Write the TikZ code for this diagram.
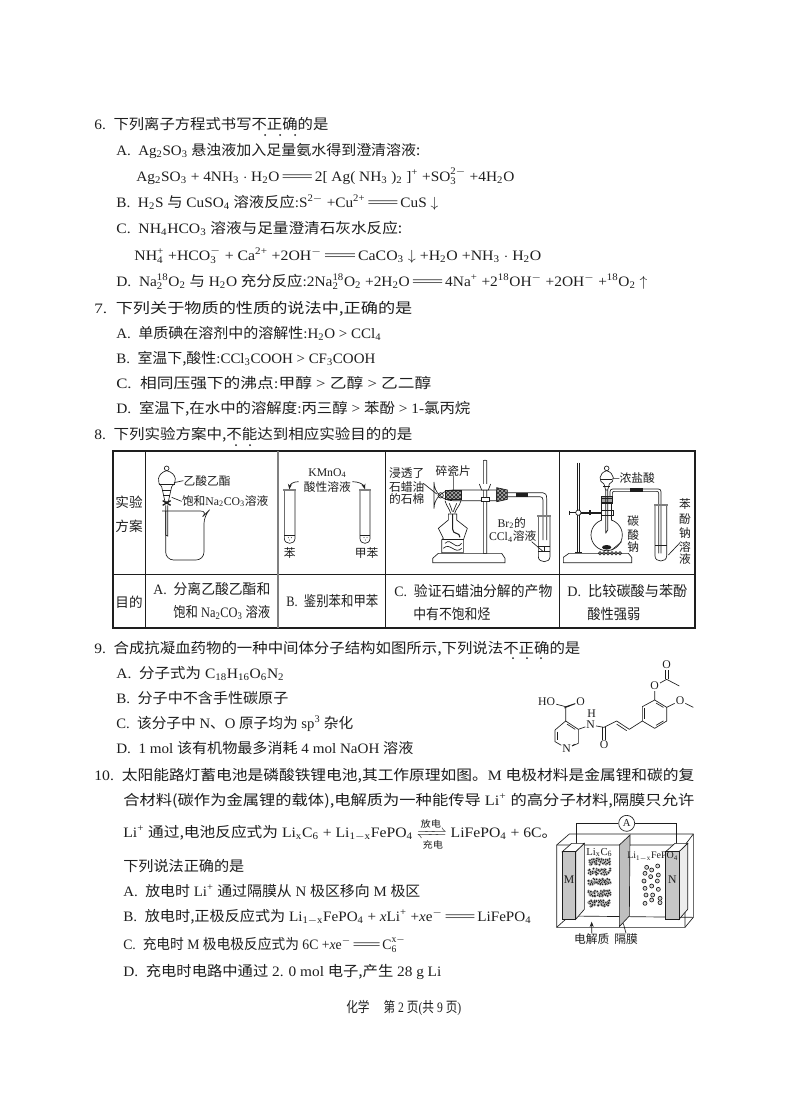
\documentclass[tikz,border=0pt]{standalone}
\usepackage{amsmath, mathtools}
\usepackage{graphicx}
\usepackage{fontspec}
\setmainfont{Liberation Serif}
\newfontfamily\cjk{Noto Sans CJK SC}
\usetikzlibrary{patterns,arrows.meta}
\definecolor{ink}{HTML}{1E1E1E}
\newlength{\pxu}
\setlength{\pxu}{.75pt}
\newcommand{\zh}[1]{{\cjk #1}}
\newcommand{\dn}[1]{$_{\text{#1}}$}
\newcommand{\up}[1]{$^{\text{#1}}$}
\newcommand{\ds}[2]{$^{\text{#1}}_{\text{#2}}$}
\newcommand{\eqq}{\resizebox{2.3em}{\height}{=}}
\newcommand{\tline}[5]{\node[txt] (#1) at (#2,#3) {\resizebox{#4\pxu}{\height}{#5}};}
\newcommand{\ttube}[5]{
 \draw (#1,#3) -- (#1,#4) .. controls (#1,#4+20) and (#2,#4+20) .. (#2,#4) -- (#2,#3);
 \draw (#1,#5) -- (#2,#5);
 \fill[gray] (#1-3,#3-3) rectangle (#2+3,#3+3);
}
\tikzset{
 txt/.style={anchor=base west,inner sep=0pt,text=ink,font=\fontsize{10.8}{13}\selectfont},
 lab/.style={inner sep=0pt,text=ink,font=\fontsize{8.8}{10}\selectfont},
 head/.style={inner sep=0pt,text=ink,font=\fontsize{10.2}{12}\selectfont},
 atom/.style={inner sep=.6pt,text=ink,font=\fontsize{8.8}{10}\selectfont},
 inbond/.style={shorten >=1.2pt,shorten <=1.2pt},
}
\begin{document}
\begin{tikzpicture}[x=.75pt,y=-.75pt,line width=.5pt,draw=ink]
\useasboundingbox (0,0) rectangle (789,1099);
\fill[white] (0,0) rectangle (789,1099);
\tline{qsix}{94}{129}{234}{6.\ \ \zh{下列离子方程式书写不正确的是}}
\foreach \x in {265,280,295} \fill[ink] (\x,135) circle (1);
\tline{qsixa}{116}{155}{304}{A.\ \ Ag\dn{2}SO\dn{3} \zh{悬浊液加入足量氨水得到澄清溶液:}}
\tline{qsixae}{136}{181}{378}{Ag\dn{2}SO\dn{3} + 4NH\dn{3} $\cdot$ H\dn{2}O\eqq 2[ Ag( NH\dn{3} )\dn{2} ]\up{+} +SO\ds{2$-$}{3} +4H\dn{2}O}
\tline{qsixb}{116}{207}{322}{B.\ \ H\dn{2}S \zh{与} CuSO\dn{4} \zh{溶液反应}:S\up{2$-$} +Cu\up{2+}\eqq CuS $\downarrow$}
\tline{qsixc}{116}{233}{286}{C.\ \ NH\dn{4}HCO\dn{3} \zh{溶液与足量澄清石灰水反应:}}
\tline{qsixce}{134}{260}{407}{NH\ds{+}{4} +HCO\ds{$-$}{3} + Ca\up{2+} +2OH\up{$-$}\eqq CaCO\dn{3} $\downarrow$ +H\dn{2}O +NH\dn{3} $\cdot$ H\dn{2}O}
\tline{qsixd}{116}{286}{531}{D.\ \ Na\ds{18}{2}O\dn{2} \zh{与} H\dn{2}O \zh{充分反应}:2Na\ds{18}{2}O\dn{2} +2H\dn{2}O\eqq 4Na\up{+} +2\up{18}OH\up{$-$} +2OH\up{$-$} +\up{18}O\dn{2} $\uparrow$}
\tline{qsev}{94}{313}{318}{7.\ \ \zh{下列关于物质的性质的说法中,正确的是}}
\tline{qseva}{116}{338}{265}{A.\ \ \zh{单质碘在溶剂中的溶解性}:H\dn{2}O > CCl\dn{4}}
\tline{qsevb}{116}{363}{259}{B.\ \ \zh{室温下,酸性}:CCl\dn{3}COOH > CF\dn{3}COOH}
\tline{qsevc}{116}{388}{315}{C.\ \ \zh{相同压强下的沸点}:\zh{甲醇} > \zh{乙醇} > \zh{乙二醇}}
\tline{qsevd}{116}{413}{354}{D.\ \ \zh{室温下,在水中的溶解度}:\zh{丙三醇} > \zh{苯酚} > 1-\zh{氯丙烷}}
\tline{qeig}{94}{439}{318}{8.\ \ \zh{下列实验方案中,不能达到相应实验目的的是}}
\foreach \x in {236,250} \fill[ink] (\x,445) circle (1);
% table
\draw[line width=.8pt] (113,451) rectangle (695,628);
\draw[line width=.5pt] (113,574) -- (695,574);
\draw (145,451) -- (145,628) (385,451) -- (385,628) (559,451) -- (559,628);
\draw[gray,line width=1pt] (278,451) -- (278,628);
\node[head] (shiyan) at (129,502) {\zh{实验}};
\node[head] (fangan) at (129,526) {\zh{方案}};
\node[head] (mude) at (129,602) {\zh{目的}};
\tline{rowa}{153}{594}{117}{A.\ \ \zh{分离乙酸乙酯和}}
\tline{rowaa}{173}{617}{97}{\zh{饱和} Na\dn{2}CO\dn{3} \zh{溶液}}
\tline{rowb}{286}{606}{92}{B.\ \ \zh{鉴别苯和甲苯}}
\tline{rowc}{394}{596}{158}{C.\ \ \zh{验证石蜡油分解的产物}}
\tline{rowcc}{413}{619}{77}{\zh{中有不饱和烃}}
\tline{rowd}{567}{596}{120}{D.\ \ \zh{比较碳酸与苯酚}}
\tline{rowdd}{587}{619}{53}{\zh{酸性强弱}}
% A and B
\begin{scope}[shift={(100,440)},scale=1/3]
 \draw (200,85) circle (7);
 \draw (200,92) .. controls (170,100) and (170,130) .. (185,140) -- (195,185) -- (205,185) -- (215,140) .. controls (232,130) and (232,100) .. (200,92);
 \draw (176,132) -- (224,132) (186,150) -- (214,150) (190,165) -- (210,165);
 \draw[line width=1pt] (188,182) -- (212,196) (188,196) -- (212,182);
 \draw (197,196) -- (197,285) -- (203,288) -- (203,196);
 \draw[rounded corners=6] (186,213) -- (325,213) -- (312,226) -- (312,360) -- (197,360) -- (197,213);
 \coordinate (lda) at (222,128);
 \coordinate (ldb) at (215,172);
 \node[lab,anchor=west] (yizhi) at (250,122) {\zh{乙酸乙酯}};
 \node[lab,anchor=west] (baohe) at (245,184) {\zh{饱和}Na\dn{2}CO\dn{3}\zh{溶液}};
 \draw (lda) -- (yizhi.west) (ldb) -- (baohe.west);
 \node[lab] (kmno) at (682,100) {KMnO\dn{4}};
 \node[lab] (suanxing) at (682,142) {\zh{酸性溶液}};
 \coordinate (la) at (568,148);
 \coordinate (lb) at (795,148);
 \draw[-{Stealth[length=4pt,width=3pt]}] (596,125) .. controls (580,125) and (570,132) .. (la);
 \draw[-{Stealth[length=4pt,width=3pt]}] (757,125) .. controls (775,125) and (790,132) .. (lb);
 \ttube{553}{585}{150}{295}{285}
 \ttube{780}{810}{150}{295}{285}
 \foreach \x/\y in {565/293,574/293,569/300,792/293,801/293,796/300} \fill[ink] (\x,\y) circle (1.5);
 \node[lab] (ben) at (569,340) {\zh{苯}};
 \node[lab] (jiaben) at (800,340) {\zh{甲苯}};
\end{scope}
% C
\begin{scope}[shift={(380,440)},scale=1/3]
 \node[lab] (jin) at (80,100) {\zh{浸透了}};
 \node[lab] (shi) at (80,140) {\zh{石蜡油}};
 \node[lab] (de) at (80,178) {\zh{的石棉}};
 \node[lab] (suici) at (220,92) {\zh{碎瓷片}};
 \draw[rounded corners=14] (350,150) -- (162,150) -- (162,182) -- (350,182);
 \draw (350,150) -- (350,182);
 \draw (182,166) circle (8);
 \draw[fill=gray!70] (195,150) rectangle (245,178);
 \fill[pattern=crosshatch,pattern color=ink] (195,150) rectangle (245,178);
 \draw[fill=gray!70] (350,143) -- (382,150) -- (382,178) -- (350,185) -- cycle;
 \fill[pattern=crosshatch,pattern color=ink] (350,143) -- (382,150) -- (382,178) -- (350,185) -- cycle;
 \draw (130,130) -- (170,162) (220,106) -- (220,150);
 \draw (382,158) -- (488,158) .. controls (497,158) and (500,165) .. (500,175) -- (500,300);
 \draw (382,170) -- (480,170) .. controls (486,170) and (489,174) .. (489,180) -- (489,300);
 \fill[ink] (408,158) rectangle (445,170);
 \ttube{475}{510}{228}{350}{320}
 \draw (475,335) -- (510,335) (492,320) -- (492,335);
 \node[lab] (brtwo) at (395,250) {Br\dn{2}\zh{的}};
 \node[lab] (ccl) at (398,290) {CCl\dn{4}\zh{溶液}};
 \draw (455,305) -- (490,335);
 \draw (310,62) -- (310,340) -- (320,340) -- (320,62) .. controls (318,60) and (312,60) .. (310,62);
 \draw[fill=white] (298,132) -- (305,150) -- (325,150) -- (332,132);
 \draw[fill=white] (303,172) rectangle (328,183);
 \draw (175,340) -- (365,340) -- (375,355) -- (375,368) -- (158,368) -- (158,355) -- cycle;
 \draw (205,222) -- (205,240) -- (175,265) -- (190,295) -- (185,300) -- (185,338) -- (250,338) -- (250,300) -- (262,265) -- (230,240) -- (230,222) -- cycle;
 \draw (185,298) -- (250,298);
 \draw[line width=.8pt] (218,222) -- (218,268) .. controls (218,285) and (240,275) .. (240,292);
 \draw (195,310) .. controls (215,290) and (225,335) .. (245,310) (190,325) .. controls (210,305) and (225,345) .. (245,325);
 \draw (195,182) .. controls (200,200) and (208,205) .. (212,220) (243,182) .. controls (238,200) and (228,205) .. (224,220) (208,190) .. controls (212,200) and (215,208) .. (217,215) (230,190) .. controls (226,200) and (222,208) .. (220,215);
\end{scope}
% D
\begin{scope}[shift={(380,440)},scale=1/3]
 \draw (567,340) -- (745,340) -- (755,352) -- (755,368) -- (550,368) -- (550,352) -- cycle;
 \draw (592,68) -- (592,340) (598,68) -- (598,340);
 \fill[ink] (585,335) rectangle (605,340);
 \draw[fill=white] (680,285) circle (47);
 \fill[white] (666,190) rectangle (694,245);
 \draw (665,190) -- (665,240) (695,190) -- (695,240);
 \draw[fill=white] (595,218) circle (8);
 \draw (568,218) -- (587,218) (603,216) -- (665,216) (603,220) -- (665,220);
 \draw[line width=1pt] (568,212) -- (568,224) (630,210) -- (630,226);
 \draw (665,210) -- (700,210) -- (700,226) -- (665,226);
 \draw[fill=gray!70] (665,170) rectangle (698,190);
 \fill[pattern=horizontal lines,pattern color=ink] (665,170) rectangle (698,190);
 \draw (680,85) circle (7);
 \draw (680,92) .. controls (655,100) and (655,125) .. (672,132) -- (677,150) -- (683,150) -- (688,132) .. controls (705,125) and (705,100) .. (680,92);
 \draw (664,118) -- (696,118);
 \draw (677,150) -- (677,280) (683,150) -- (683,270) -- (677,280);
 \draw[line width=1pt] (670,140) -- (690,140);
 \node[lab,anchor=west] (nong) at (718,115) {\zh{浓盐酸}};
 \draw (698,115) -- (nong.west);
 \draw (690,170) -- (690,155) .. controls (690,150) and (693,147) .. (698,147) -- (835,147) .. controls (840,147) and (843,150) .. (843,155) -- (843,340);
 \draw (697,170) -- (697,160) .. controls (697,156) and (699,154) .. (703,154) -- (830,154) .. controls (834,154) and (836,156) .. (836,160) -- (836,340);
 \fill[ink] (750,145) rectangle (790,156);
 \ttube{825}{860}{195}{348}{315}
 \foreach \x in {660,672,...,720} \draw (\x,340) circle (5);
 \fill[ink] (680,322) ellipse (14 and 7);
 \node[lab] (tan) at (760,243) {\zh{碳}};
 \node[lab] (suan) at (760,285) {\zh{酸}};
 \node[lab] (na) at (760,322) {\zh{钠}};
 \draw (725,305) -- (695,330);
 \foreach \n/\t/\y in {a/苯/192,b/酚/237,c/钠/280,d/溶/320,e/液/358}
  \node[lab] (benfen\n) at (915,\y) {\zh{\t}};
 \draw (865,345) -- (900,308);
\end{scope}
\tline{qnine}{94}{653}{486}{9.\ \ \zh{合成抗凝血药物的一种中间体分子结构如图所示,下列说法不正确的是}}
\foreach \x in {513,527,541} \fill[ink] (\x,658) circle (1);
\tline{qninea}{116}{678}{168}{A.\ \ \zh{分子式为} C\dn{18}H\dn{16}O\dn{6}N\dn{2}}
\tline{qnineb}{116}{703}{172}{B.\ \ \zh{分子中不含手性碳原子}}
\tline{qninec}{116}{728}{237}{C.\ \ \zh{该分子中} N\zh{、}O \zh{原子均为} sp\up{3} \zh{杂化}}
\tline{qnined}{116}{753}{297}{D.\ \ 1 mol \zh{该有机物最多消耗} 4 mol NaOH \zh{溶液}}
% molecule
\begin{scope}[shift={(520,650)},scale=1/3]
 \foreach \n/\x/\y in {pa/105/240,pb/137/213,pc/175/238,pd/175/280,pe/105/275,co/137/170,cn/252/232,
   va/290/213,vb/328/238,ra/367/213,rb/367/170,rc/404/150,rd/440/172,re/440/213,rf/404/235,
   ac/440/88,me/478/108,mo/520/172}
  \coordinate (\n) at (\x,\y);
 \node[atom] (nring) at (140,295) {N};
 \node[atom] (oh) at (80,155) {HO};
 \node[atom] (oa) at (182,155) {O};
 \node[atom] (nh) at (212,225) {N};
 \node[atom] (hh) at (215,190) {H};
 \node[atom] (ob) at (252,285) {O};
 \node[atom] (oc) at (404,108) {O};
 \node[atom] (od) at (440,45) {O};
 \node[atom] (oe) at (480,152) {O};
 \draw (pa) -- (pb) -- (pc) -- (pd) -- (nring) -- (pe) -- (pa);
 \draw[inbond] ([xshift=5pt]pa) -- ([xshift=5pt]pe);
 \draw[inbond] ([yshift=-5pt]pb) -- ([xshift=-4pt,yshift=-2pt]pc);
 \draw[inbond] ([xshift=-5pt]pd) -- ([xshift=-3pt,yshift=4pt]nring.east);
 \draw (pb) -- (co) -- (oh) (pc) -- (nh) -- (cn) -- (va);
 \draw (co) -- (oa) ([xshift=-3pt,yshift=-3pt]co) -- ([xshift=-3pt,yshift=-3pt]oa);
 \draw ([xshift=-3pt]cn) -- ([xshift=-3pt]ob.north) ([xshift=3pt]cn) -- ([xshift=3pt]ob.north);
 \draw (va) -- (vb) -- (ra);
 \draw[inbond] ([xshift=-3pt,yshift=-5pt]va) -- ([xshift=-3pt,yshift=-5pt]vb);
 \draw (ra) -- (rb) -- (rc) -- (rd) -- (re) -- (rf) -- (ra);
 \draw[inbond] ([xshift=5pt]rb) -- ([xshift=5pt]ra);
 \draw[inbond] ([yshift=-5pt]rc) -- ([xshift=-4pt,yshift=-2pt]rd);
 \draw[inbond] ([yshift=5pt]rf) -- ([xshift=-4pt,yshift=2pt]re);
 \draw (rc) -- (oc) -- (ac) -- (me) (rd) -- (oe) -- (mo);
 \draw ([xshift=-3pt]ac) -- ([xshift=-3pt]od.south) ([xshift=3pt]ac) -- ([xshift=3pt]od.south);
\end{scope}
\tline{qten}{94}{780}{600}{10.\ \ \zh{太阳能路灯蓄电池是磷酸铁锂电池,其工作原理如图。}M \zh{电极材料是金属锂和碳的复}}
\tline{qtenb}{123}{805}{571}{\zh{合材料(碳作为金属锂的载体),电解质为一种能传导} Li\up{+} \zh{的高分子材料,隔膜只允许}}
\tline{qtenc}{123}{837}{434}{Li\up{+} \zh{通过,电池反应式为} Li\dn{x}C\dn{6} + Li\dn{1$-$x}FePO\dn{4} $\xrightleftharpoons[\text{\scriptsize\zh{充电}}]{\text{\scriptsize\zh{放电}}}$ LiFePO\dn{4} + 6C\zh{。}}
\tline{qtend}{123}{871}{121}{\zh{下列说法正确的是}}
\tline{qtena}{123}{896}{297}{A.\ \ \zh{放电时} Li\up{+} \zh{通过隔膜从} N \zh{极区移向} M \zh{极区}}
\tline{qtenbb}{123}{921}{408}{B.\ \ \zh{放电时,正极反应式为} Li\dn{1$-$x}FePO\dn{4} + \emph{x}Li\up{+} +\emph{x}e\up{$-$}\eqq LiFePO\dn{4}}
\tline{qtencc}{123}{949}{282}{C.\ \ \zh{充电时} M \zh{极电极反应式为} 6C +\emph{x}e\up{$-$}\eqq C\ds{x$-$}{6}}
\tline{qtendd}{123}{976}{318}{D.\ \ \zh{充电时电路中通过} 2. 0 mol \zh{电子,产生} 28 g Li}
% cell
\begin{scope}[shift={(530,810)},scale=1/3]
 \node[draw,circle,inner sep=0pt,minimum size=12pt,text=ink,font=\fontsize{8}{9}\selectfont] (amp) at (290,40) {A};
 \coordinate (wm) at (138,103);
 \coordinate (wn) at (440,103);
 \draw (wm) |- (amp) (amp) -| (wn);
 \draw (80,105) -- (118,72) -- (490,72) -- (490,322) -- (465,352) -- (80,352) -- cycle;
 \draw (465,105) -- (490,72) (465,105) -- (465,352) (80,105) -- (465,105);
 \draw (80,352) -- (118,318) -- (97,318) (118,318) -- (490,322);
 \foreach \x/\nm/\t in {97/em/M,407/en/N}{
  \draw[fill=gray!15] (\x+40,125) -- (\x+66,100) -- (\x+66,298) -- (\x+40,328) -- cycle;
  \draw[fill=white] (\x,125) -- (\x+28,100) -- (\x+66,100) -- (\x+40,125) -- cycle;
  \draw[fill=gray!45] (\x,125) rectangle (\x+40,328);
  \node[lab] (\nm) at (\x+20,210) {\t};
 }
 \draw[fill=gray!50] (268,105) -- (300,75) -- (298,318) -- (268,350) -- cycle;
 \node[lab,font=\fontsize{8}{9}\selectfont] (lixc) at (208,127) {Li\dn{x}C\dn{6}};
 \node[lab,font=\fontsize{7.5}{8}\selectfont] (lifep) at (368,140) {Li\dn{1$-$x}FePO\dn{4}};
 \pgfmathsetseed{7}
 \foreach \y in {155,185,215,250,280}
  \foreach \x in {178,184,...,240}
   \foreach \k in {1,2,3,4}
    \filldraw[fill=ink,draw=white,line width=.1pt] ({\x+3*rand},{\y+9*rand}) circle (4.2);
 \foreach \x/\y in {383/168,350/172,365/180,345/190,362/200,385/195,342/213,382/213,365/228,345/235,385/238,348/255,368/255,390/265,365/270,345/280,390/278}
  \draw[fill=gray!30] (\x,\y) circle (6);
 \node[lab] (dianjie) at (185,387) {\zh{电解质}};
 \node[lab] (gemo) at (288,387) {\zh{隔膜}};
 \draw[-{Stealth[length=4pt,width=3pt]}] (dianjie.north) -- (185,335);
 \draw (280,340) -- (gemo.north);
\end{scope}
\tline{foot}{346}{1012}{115}{\zh{化学}\hspace{1.2em}\zh{第} 2 \zh{页}(\zh{共} 9 \zh{页})}
\end{tikzpicture}
\end{document}
